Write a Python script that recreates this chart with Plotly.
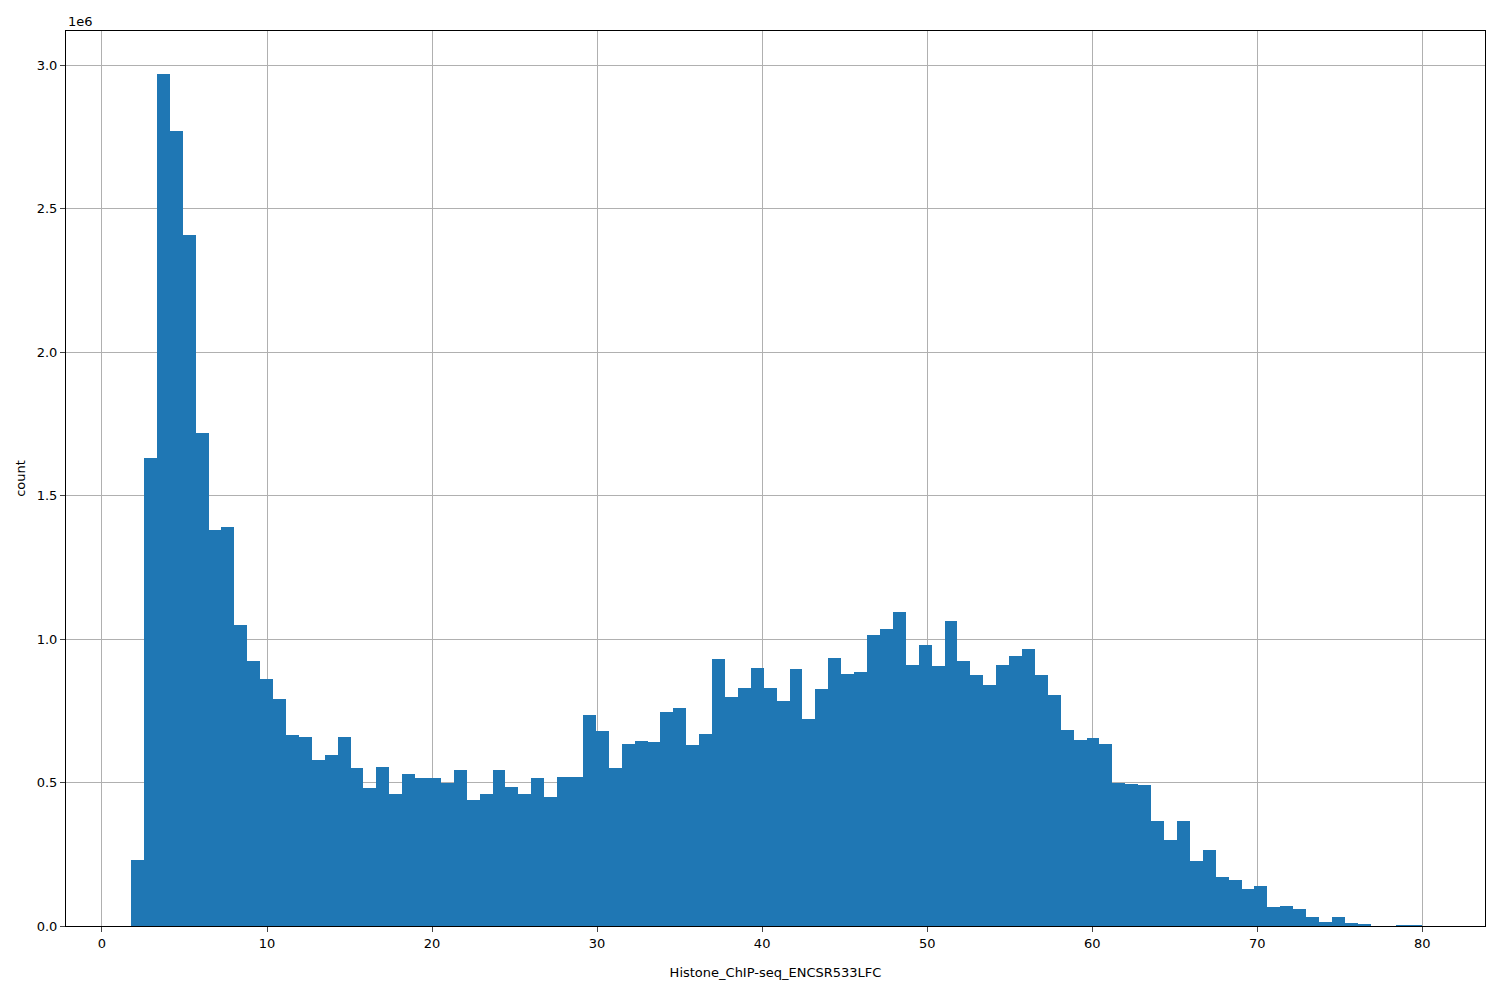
import plotly.graph_objs as go
import numpy as np

# histogram counts (millions), 100 equal bins from ~1.76 to ~80
edge_lo = 1.76
edge_hi = 80.0
counts = [0.23, 1.63, 2.97, 2.77, 2.41, 1.72, 1.38, 1.39, 1.05, 0.925,
          0.86, 0.79, 0.665, 0.66, 0.58, 0.595, 0.66, 0.55, 0.48, 0.555,
          0.46, 0.53, 0.515, 0.515, 0.50, 0.545, 0.44, 0.46, 0.545, 0.485,
          0.46, 0.515, 0.45, 0.52, 0.52, 0.735, 0.68, 0.55, 0.635, 0.645,
          0.64, 0.745, 0.76, 0.63, 0.67, 0.93, 0.80, 0.83, 0.90, 0.83,
          0.785, 0.895, 0.72, 0.825, 0.935, 0.88, 0.885, 1.015, 1.035, 1.095,
          0.91, 0.98, 0.905, 1.065, 0.925, 0.875, 0.84, 0.91, 0.94, 0.965,
          0.875, 0.805, 0.685, 0.65, 0.655, 0.635, 0.50, 0.495, 0.49, 0.365,
          0.30, 0.365, 0.225, 0.265, 0.17, 0.16, 0.13, 0.14, 0.065, 0.07,
          0.06, 0.03, 0.015, 0.03, 0.01, 0.005, 0.0, 0.0, 0.003, 0.001]
x_ticks = [0, 10, 20, 30, 40, 50, 60, 70, 80]
y_ticks = [0.0, 0.5, 1.0, 1.5, 2.0, 2.5, 3.0]

edges = np.linspace(edge_lo, edge_hi, len(counts) + 1)
centers = (edges[:-1] + edges[1:]) / 2
width = edges[1] - edges[0]

fig = go.Figure()
fig.add_trace(go.Bar(x=centers, y=counts, width=width,
                     marker=dict(color='#1f77b4', line=dict(width=0))))

fig.update_layout(
    width=1500, height=1000, plot_bgcolor='white', paper_bgcolor='white',
    margin=dict(l=58, r=23, t=23, b=82, autoexpand=False), bargap=0, showlegend=False,
    font=dict(family='DejaVu Sans', size=13, color='black'),
    xaxis=dict(range=[-2.18, 83.8], tickvals=x_ticks, showgrid=True, automargin=False,
               gridcolor='#b0b0b0', showline=True, linecolor='black', mirror=True,
               ticks='outside', zeroline=False,
               title=dict(text='Histone_ChIP-seq_ENCSR533LFC', standoff=18,
                          font=dict(size=13))),
    yaxis=dict(range=[0, 3.12], tickvals=y_ticks, automargin=False,
               ticktext=['%.1f' % v for v in y_ticks], showgrid=True,
               gridcolor='#b0b0b0', showline=True, linecolor='black', mirror=True,
               ticks='outside', zeroline=False,
               title=dict(text='count', standoff=8, font=dict(size=13))),
)
fig.add_annotation(text='1e6', xref='paper', yref='paper', x=0, y=1,
                   xanchor='left', yanchor='bottom', showarrow=False,
                   font=dict(size=13))
fig.write_html("out.html")
